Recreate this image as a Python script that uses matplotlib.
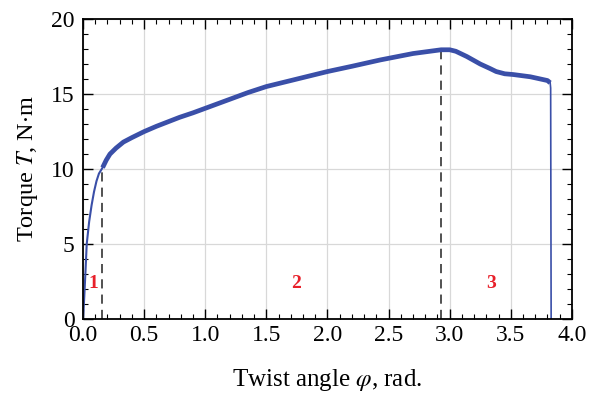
import numpy as np
import matplotlib as mpl
mpl.use("Agg")
import matplotlib.pyplot as plt
from matplotlib.ticker import MultipleLocator, FormatStrFormatter

# twist angle (rad) and torque (N*m)
twist = [0.0, 0.01, 0.02, 0.03, 0.05, 0.07, 0.09, 0.11, 0.13, 0.16, 0.19, 0.22,
         0.27, 0.33, 0.40, 0.50, 0.60, 0.79, 0.90, 1.00, 1.20, 1.35, 1.50, 1.70,
         2.00, 2.20, 2.43, 2.70, 2.93, 3.00, 3.05, 3.14, 3.25, 3.33, 3.38, 3.45,
         3.52, 3.66, 3.80, 3.822, 3.826, 3.83]
torque = [0.0, 1.5, 3.2, 5.0, 6.5, 7.6, 8.5, 9.2, 9.7, 10.1, 10.6, 11.0,
          11.4, 11.8, 12.1, 12.5, 12.85, 13.45, 13.75, 14.05, 14.65, 15.1, 15.5, 15.9,
          16.5, 16.85, 17.27, 17.7, 17.95, 17.95, 17.85, 17.5, 17.0, 16.7, 16.5, 16.35,
          16.3, 16.15, 15.9, 15.75, 15.4, 0.0]

# dashed boundaries between stages
stage_bounds = [(0.158, 10.0), (2.93, 17.95)]
stage_labels = ["1", "2", "3"]
stage_label_x = [0.085, 1.74, 3.34]
stage_label_y = 2.4

mpl.rcParams["font.family"] = "Liberation Serif"
mpl.rcParams["mathtext.fontset"] = "stix"
mpl.rcParams["font.size"] = 17

fig, ax = plt.subplots(1, 1, figsize=(5.89, 3.96), dpi=100)
fig.subplots_adjust(left=0.141, right=0.971, bottom=0.194, top=0.952)

ax.set_xlim(0, 4.0)
ax.set_ylim(0, 20)
ax.xaxis.set_major_locator(MultipleLocator(0.5))
ax.xaxis.set_minor_locator(MultipleLocator(0.1))
ax.yaxis.set_major_locator(MultipleLocator(5))
ax.yaxis.set_minor_locator(MultipleLocator(1))
ax.xaxis.set_major_formatter(FormatStrFormatter("%.1f"))
ax.tick_params(which="both", direction="in", top=True, right=True, labelsize=17)
ax.tick_params(which="major", length=7, width=1)
ax.tick_params(which="minor", length=3.5, width=0.8)
ax.tick_params(axis="x", pad=4)
ax.tick_params(axis="y", pad=6)
for s in ax.spines.values():
    s.set_linewidth(1.3)
ax.grid(which="major", color="#d8d8d8", linewidth=0.9)
ax.set_axisbelow(True)

for bx, by in stage_bounds:
    ax.plot([bx, bx], [0, by], color="#222222", linestyle=(0, (6, 4)), linewidth=1.1)

# elastic part is a thin trace, plastic part a noisy (thick) band, fracture a thin drop
n_el = 10
ax.plot(twist[:n_el], torque[:n_el], color="#3a4fa8", linewidth=1.5, solid_capstyle="round")
ax.plot(twist[n_el - 1:-2], torque[n_el - 1:-2], color="#3a4fa8", linewidth=3.4,
        solid_joinstyle="round", solid_capstyle="butt")
ax.plot(twist[-3:], torque[-3:], color="#3a4fa8", linewidth=1.2)

for lab, lx in zip(stage_labels, stage_label_x):
    ax.text(lx, stage_label_y, lab, color="#e8202a", fontsize=14, fontweight="bold",
            ha="center", va="center")

ax.set_xlabel(r"Twist angle $\varphi$, rad.", fontsize=18, labelpad=15)
ax.set_ylabel(r"Torque $T$, N$\cdot$m", fontsize=17.5, labelpad=8)

plt.savefig("out.png", dpi=100)
plt.close()
